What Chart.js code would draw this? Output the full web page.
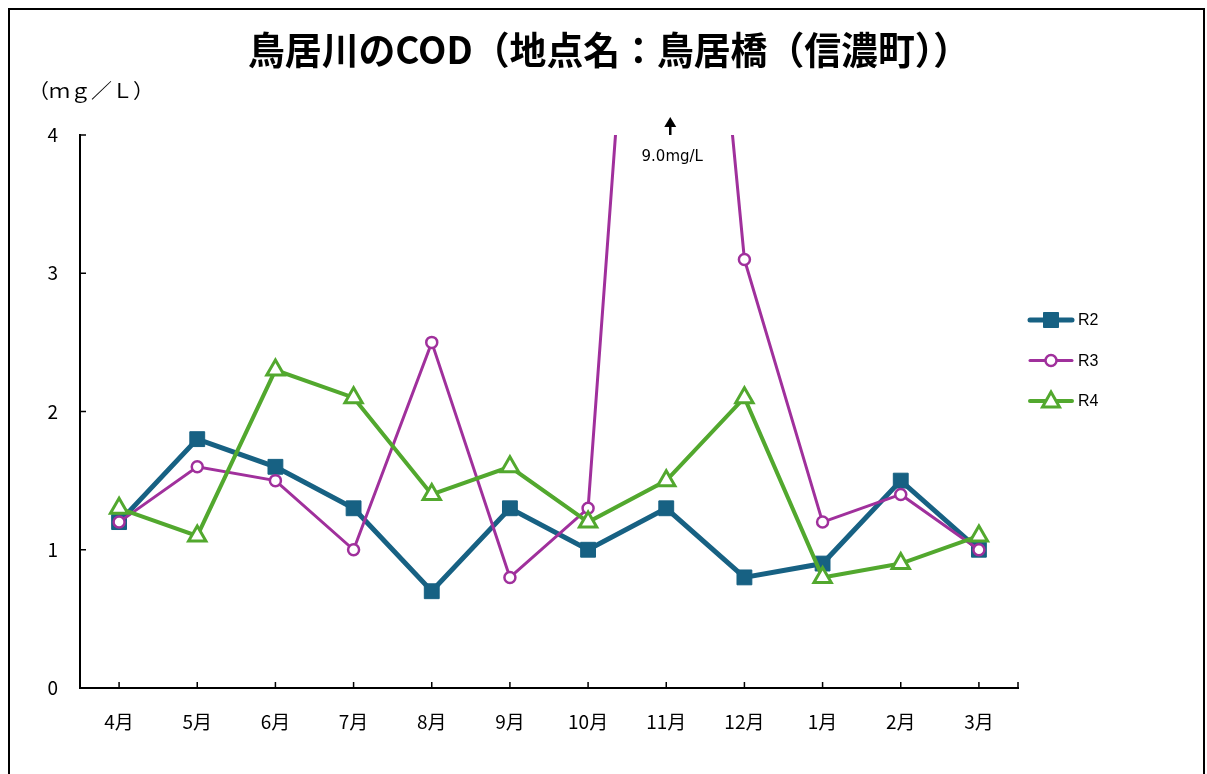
<!DOCTYPE html>
<html>
<head>
<meta charset="utf-8">
<script src="https://cdn.jsdelivr.net/npm/chart.js@4/dist/chart.umd.min.js"></script>
<style>
  body { margin: 0; background: #fff; }
  #wrap { position: relative; width: 1207px; height: 774px; overflow: hidden; }
  #frame { position: absolute; left: 8px; top: 8px; width: 1193px; height: 800px; border: 2px solid #000; }
  canvas { position: absolute; left: 0; top: 0; }
</style>
</head>
<body>
<div id="wrap">
  <div id="frame"></div>
  <canvas id="chart" width="1207" height="774"></canvas>
</div>
<script>
// month labels (April to March)
const months = ['4月', '5月', '6月', '7月', '8月', '9月', '10月', '11月', '12月', '1月', '2月', '3月'];
// COD values, mg/L
const r2 = [1.2, 1.8, 1.6, 1.3, 0.7, 1.3, 1.0, 1.3, 0.8, 0.9, 1.5, 1.0];
const r3 = [1.2, 1.6, 1.5, 1.0, 2.5, 0.8, 1.3, 9.0, 3.1, 1.2, 1.4, 1.0];
const r4 = [1.3, 1.1, 2.3, 2.1, 1.4, 1.6, 1.2, 1.5, 2.1, 0.8, 0.9, 1.1];
const yMax = 4;
// value above the axis limit, shown as a note
const overIndex = 7;
const overLabel = '9.0mg/L';

const titleText = '鳥居川のCOD（地点名：鳥居橋（信濃町））';
const unitText = '（ｍｇ／Ｌ）';

const jp = '"Noto Sans CJK JP", sans-serif';

// draw text squeezed/stretched to a given width
function fitText(ctx, text, left, y, width) {
    const w = ctx.measureText(text).width;
    ctx.save();
    ctx.translate(left, y);
    ctx.scale(width / w, 1);
    ctx.textAlign = 'left';
    ctx.fillText(text, 0, 0);
    ctx.restore();
}

// title, unit, axis ticks, the 9.0 note and the legend
const extras = {
    id: 'extras',
    afterDraw(chart) {
        const ctx = chart.ctx;
        const area = chart.chartArea;
        const x = chart.scales.x;
        const y = chart.scales.y;
        ctx.save();

        ctx.fillStyle = '#000';
        ctx.textBaseline = 'middle';
        ctx.font = 'bold 38px ' + jp;
        fitText(ctx, titleText, 248, 50, 722);

        ctx.font = '20px ' + jp;
        fitText(ctx, unitText, 28, 90, 126);

        // tick marks pointing inward
        ctx.strokeStyle = '#000';
        ctx.lineWidth = 1.5;
        ctx.beginPath();
        months.forEach((m, i) => {
            const px = x.getPixelForValue(i);
            ctx.moveTo(px, area.bottom);
            ctx.lineTo(px, area.bottom - 6);
        });
        ctx.moveTo(area.right, area.bottom);
        ctx.lineTo(area.right, area.bottom - 6);
        for (let v = 0; v <= yMax; v++) {
            const py = y.getPixelForValue(v);
            ctx.moveTo(area.left, py);
            ctx.lineTo(area.left + 6, py);
        }
        ctx.stroke();

        // note for the off-scale value
        const nx = x.getPixelForValue(overIndex) + 4;
        ctx.lineWidth = 2.5;
        ctx.beginPath();
        ctx.moveTo(nx, area.top);
        ctx.lineTo(nx, area.top - 10);
        ctx.stroke();
        ctx.beginPath();
        ctx.moveTo(nx, area.top - 18);
        ctx.lineTo(nx - 6, area.top - 8);
        ctx.lineTo(nx + 6, area.top - 8);
        ctx.closePath();
        ctx.fill();
        ctx.font = '15px "DejaVu Sans", sans-serif';
        ctx.textAlign = 'center';
        ctx.fillText(overLabel, nx + 2, area.top + 22);

        // legend: line + marker
        chart.data.datasets.forEach((ds, i) => {
            const ly = 320 + i * 40.5;
            const lx = 1030;
            ctx.strokeStyle = ds.borderColor;
            ctx.lineWidth = ds.borderWidth;
            ctx.lineCap = 'round';
            ctx.beginPath();
            ctx.moveTo(lx, ly);
            ctx.lineTo(lx + 42, ly);
            ctx.stroke();
            ctx.lineCap = 'butt';
            const cx = lx + 21;
            ctx.lineWidth = ds.pointBorderWidth;
            ctx.fillStyle = ds.pointBackgroundColor;
            ctx.beginPath();
            if (ds.pointStyle === 'rect') {
                ctx.rect(cx - 7.5, ly - 7.5, 15, 15);
            } else if (ds.pointStyle === 'circle') {
                ctx.arc(cx, ly, 5.5, 0, Math.PI * 2);
            } else {
                ctx.moveTo(cx, ly - 9);
                ctx.lineTo(cx - 8.5, ly + 6);
                ctx.lineTo(cx + 8.5, ly + 6);
                ctx.closePath();
            }
            ctx.fill();
            ctx.stroke();
            ctx.fillStyle = '#000';
            ctx.font = '16px "Liberation Sans", sans-serif';
            ctx.textAlign = 'left';
            ctx.fillText(ds.label, lx + 48, ly + 1);
        });
        ctx.restore();
    }
};

new Chart(document.getElementById('chart'), {
    type: 'line',
    data: {
        labels: months,
        datasets: [
            {
                label: 'R2',
                data: r2,
                borderColor: '#176183',
                backgroundColor: '#176183',
                borderWidth: 5,
                pointStyle: 'rect',
                pointRadius: 10.5,
                pointBackgroundColor: '#176183',
                pointBorderColor: '#176183',
                pointBorderWidth: 1,
                order: 3,
                clip: 0
            },
            {
                label: 'R3',
                data: r3,
                borderColor: '#a0309c',
                backgroundColor: '#fff',
                borderWidth: 3,
                pointStyle: 'circle',
                pointRadius: 5.5,
                pointBackgroundColor: '#fff',
                pointBorderColor: '#a0309c',
                pointBorderWidth: 2.5,
                order: 2,
                clip: 0
            },
            {
                label: 'R4',
                data: r4,
                borderColor: '#52a82e',
                backgroundColor: '#fff',
                borderWidth: 4,
                pointStyle: 'triangle',
                pointRadius: 10,
                pointBackgroundColor: '#fff',
                pointBorderColor: '#52a82e',
                pointBorderWidth: 3,
                order: 1,
                clip: 0
            }
        ]
    },
    options: {
        responsive: false,
        animation: false,
        events: [],
        layout: { padding: { left: 0, top: 135, right: 189, bottom: 0 } },
        plugins: {
            legend: { display: false },
            title: { display: false },
            tooltip: { enabled: false }
        },
        scales: {
            x: {
                offset: true,
                grid: { display: false, drawTicks: false },
                border: { display: true, color: '#000', width: 2 },
                ticks: { padding: 22, color: '#000', font: { family: jp, size: 19 } },
                afterFit: (s) => { s.height = 86; }
            },
            y: {
                min: 0,
                max: yMax,
                grid: { display: false, drawTicks: false },
                border: { display: true, color: '#000', width: 2 },
                ticks: { stepSize: 1, padding: 22, color: '#000', font: { family: jp, size: 19 } },
                afterFit: (s) => { s.width = 80; }
            }
        }
    },
    plugins: [extras]
});
</script>
</body>
</html>
